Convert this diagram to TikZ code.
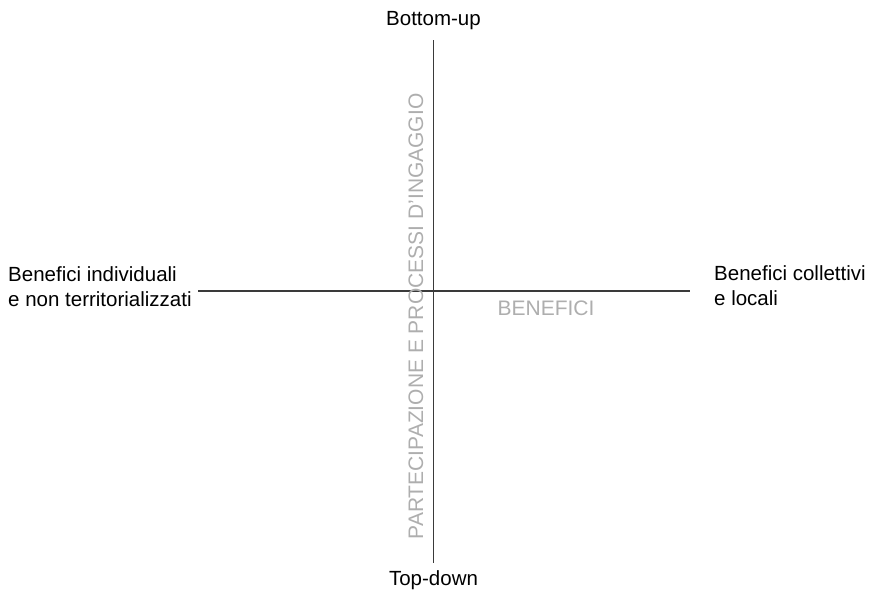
\documentclass[tikz,border=0pt]{standalone}
\usepackage{fontspec}
\setmainfont{Liberation Sans}
\definecolor{axisgray}{HTML}{3A3A3A}
\definecolor{labelgray}{HTML}{AEAEAE}
\begin{document}
\begin{tikzpicture}[x=1pt,y=1pt,
  axis/.style={draw=axisgray,line width=1.6pt},
  endlabel/.style={inner sep=0pt,font=\fontsize{20.5}{25}\selectfont,text=black},
  axislabel/.style={inner sep=0pt,font=\fontsize{21}{25}\selectfont,text=labelgray}]
\useasboundingbox (0,0) rectangle (874,-590);
\coordinate (vt) at (433.5,-40);
\coordinate (vb) at (433.5,-563);
\coordinate (hl) at (198,-291);
\coordinate (hr) at (690,-291);
\draw[axis] (vt) -- (vb);
\draw[axis] (hl) -- (hr);
\node[endlabel,anchor=base] (bu) at (433.5,-25) {Bottom-up};
\node[endlabel,anchor=base] (td) at (433.5,-585) {Top-down};
\node[endlabel,anchor=base west] (left) at (8,-281) {\vtop{\hbox{Benefici individuali}\hbox{e non territorializzati}}};
\node[endlabel,anchor=base west] (right) at (714,-280) {\vtop{\hbox{Benefici collettivi}\hbox{e locali}}};
\node[axislabel] (ben) at (546,-308) {BENEFICI};
\node[axislabel,rotate=90,anchor=base] (part) at (423,-316.5) {PARTECIPAZIONE E PROCESSI D'INGAGGIO};
\end{tikzpicture}
\end{document}
